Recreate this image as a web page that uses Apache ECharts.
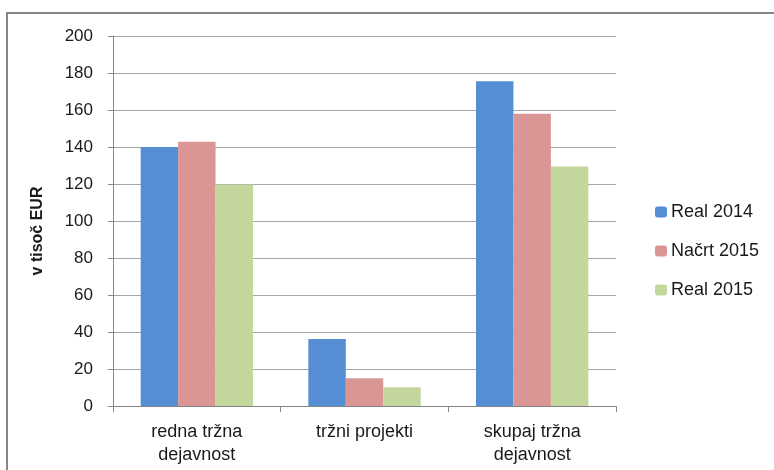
<!DOCTYPE html>
<html><head><meta charset="utf-8">
<script src="https://cdn.jsdelivr.net/npm/echarts@6/dist/echarts.min.js"></script>
<style>html,body{margin:0;padding:0;background:#fff}#c{width:774px;height:470px}</style>
</head><body><div id="c"></div>
<script>
const categories = ['redna tržna\ndejavnost', 'tržni projekti', 'skupaj tržna\ndejavnost'];
const seriesNames = ['Real 2014', 'Načrt 2015', 'Real 2015'];
const real2014 = [140, 36.2, 175.6];
const nacrt2015 = [142.8, 15, 158];
const real2015 = [119.7, 10.1, 129.4];
const yTicks = { min: 0, max: 200, interval: 20 };
const yAxisTitle = 'v tisoč EUR';
const colors = ['#558ED5', '#D99694', '#C3D69B'];
const FONT = '"Liberation Sans", Arial, sans-serif';

const chart = echarts.init(document.getElementById('c'), null, { renderer: 'canvas' });
const values = [real2014, nacrt2015, real2015];
chart.setOption({
  animation: false,
  backgroundColor: '#fff',
  graphic: [{
    type: 'rect', shape: { x: 7, y: 13, width: 900, height: 600 },
    style: { fill: 'none', stroke: '#868686', lineWidth: 2 }, silent: true
  }, {
    type: 'text', x: 38, y: 231, rotation: Math.PI / 2,
    style: { text: yAxisTitle, fontFamily: FONT, fontSize: 16, fontWeight: 'bold', fill: '#1a1a1a', align: 'center', verticalAlign: 'middle' },
    silent: true
  }],
  grid: { left: 113, right: 158, top: 36, bottom: 64 },
  legend: {
    orient: 'vertical', left: 650, top: 198, itemGap: 21,
    itemWidth: 12, itemHeight: 11,
    textStyle: { fontFamily: FONT, fontSize: 18, color: '#1a1a1a', padding: [0, 0, 0, -1] },
    data: seriesNames
  },
  xAxis: {
    type: 'category', data: categories,
    axisLine: { lineStyle: { color: '#868686', width: 1 } },
    axisTick: { show: true, length: 6, lineStyle: { color: '#868686' } },
    axisLabel: { fontFamily: FONT, fontSize: 18, color: '#1a1a1a', margin: 15, lineHeight: 23 }
  },
  yAxis: {
    type: 'value', min: yTicks.min, max: yTicks.max, interval: yTicks.interval,
    axisLine: { show: true, lineStyle: { color: '#868686' } },
    axisTick: { show: true, length: 5, lineStyle: { color: '#868686' } },
    axisLabel: { fontFamily: FONT, fontSize: 17, color: '#1a1a1a', margin: 20 },
    splitLine: { lineStyle: { color: '#a6a6a6', width: 1 } }
  },
  series: seriesNames.map((n, i) => ({
    name: n, type: 'bar', data: values[i],
    itemStyle: { color: colors[i] },
    barGap: '0%', barCategoryGap: '33%'
  }))
});
</script></body></html>
